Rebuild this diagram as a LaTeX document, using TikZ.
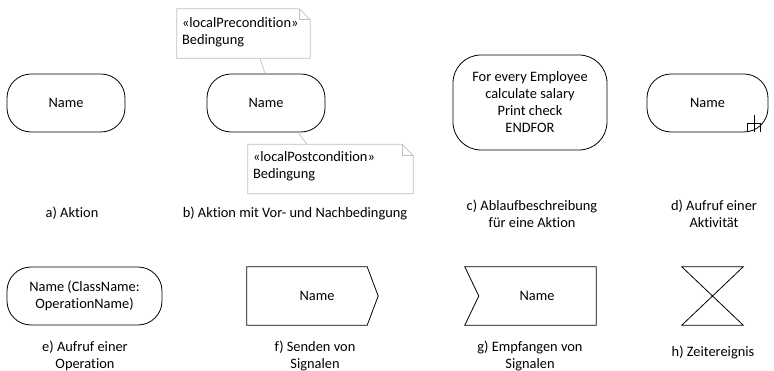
\documentclass[tikz,border=0pt]{standalone}
\usepackage{fontspec}
\setmainfont{Carlito}[Ligatures=NoCommon]
\begin{document}
\begin{tikzpicture}[x=1pt,y=-1pt,
  every node/.style={font=\fontsize{14.4}{17}\selectfont, inner sep=0pt, align=center},
  act/.style={draw, line width=0.8pt, rectangle, rounded corners=24pt},
  notebox/.style={minimum width=#1, minimum height=49, draw=none},
  noteline/.style={draw=gray!50, line width=0.7pt},
  shapeline/.style={line width=0.8pt},
  caption/.style={}
]
\useasboundingbox (0,0) rectangle (774,371);

% a) action
\node[act, minimum width=118, minimum height=58] (a) at (66,103) {Name};
\node[caption] (la) at (72,213) {a) Aktion};

% b) action with local pre- and postcondition
\node[act, minimum width=118, minimum height=58] (b) at (266,103) {Name};
\node[notebox=133] (n1) at (243.5,33.5) {};
\node[anchor=north west, align=left] (n1t) at ([shift={(5,9)}]n1.north west) {«localPrecondition»\\Bedingung};
\draw[noteline] (n1.south west) -- (n1.south east) -- ([yshift=-11pt]n1.north east)
  -- ([xshift=-11pt]n1.north east) -- (n1.north west) -- cycle;
\draw[noteline] ([xshift=-11pt]n1.north east) -- ([shift={(-11,11)}]n1.north east) -- ([yshift=-11pt]n1.north east);
\node[notebox=165] (n2) at (330.5,169) {};
\node[anchor=north west, align=left] (n2t) at ([shift={(5,7)}]n2.north west) {«localPostcondition»\\Bedingung};
\draw[noteline] (n2.south west) -- (n2.south east) -- ([yshift=-11pt]n2.north east)
  -- ([xshift=-11pt]n2.north east) -- (n2.north west) -- cycle;
\draw[noteline] ([xshift=-11pt]n2.north east) -- ([shift={(-11,11)}]n2.north east) -- ([yshift=-11pt]n2.north east);
\coordinate (n1c) at (n1.south -| 260,0);
\coordinate (b1c) at (b.north -| 265,0);
\draw[noteline] (n1c) -- (b1c);
\coordinate (b2c) at (b.south -| 298,0);
\coordinate (n2c) at (n2.north -| 307,0);
\draw[noteline] (b2c) -- (n2c);
\node[caption] (lb) at (295,213) {b) Aktion mit Vor- und Nachbedingung};

% c) action with a textual description
\node[act, rounded corners=28pt, minimum width=154, minimum height=95] (c) at (530,102.5)
  {For every Employee\\calculate salary\\Print check\\ENDFOR};
\node[caption] (lc) at (532,214) {c) Ablaufbeschreibung\\für eine Aktion};

% d) call of an activity, with the rake symbol
\node[act, minimum width=121, minimum height=58] (d) at (707.5,103) {Name};
\draw[shapeline] ([shift={(-8,0)}]d.south east) -- ([shift={(-8,-9)}]d.south east)
  -- ([shift={(-21,-9)}]d.south east) -- ([shift={(-21,0)}]d.south east);
\draw[shapeline] ([shift={(-14.5,0)}]d.south east) -- ([shift={(-14.5,-17)}]d.south east);
\node[caption] (ld) at (714,214) {d) Aufruf einer\\Aktivität};

% e) call of an operation
\node[act, minimum width=155, minimum height=58] (e) at (84.5,296) {Name (ClassName:\\OperationName)};
\node[caption] (le) at (85,356) {e) Aufruf einer\\Operation};

% f) send signal
\node[minimum width=120, minimum height=58] (f) at (307,296) {};
\node (ft) at (317,296) {Name};
\draw[shapeline] (f.north west) -- (f.north east) -- ([xshift=11pt]f.east) -- (f.south east)
  -- (f.south west) -- cycle;
\node[caption] (lf) at (315,356) {f) Senden von\\Signalen};

% g) accept signal
\node[minimum width=131, minimum height=58] (g) at (530.5,296) {};
\node (gt) at (537,296) {Name};
\draw[shapeline] (g.north west) -- (g.north east) -- (g.south east) -- (g.south west)
  -- ([xshift=14pt]g.west) -- cycle;
\node[caption] (lg) at (530,356) {g) Empfangen von\\Signalen};

% h) time event
\node[minimum width=61, minimum height=58] (h) at (712.5,296) {};
\draw[shapeline] (h.north west) -- (h.north east) -- (h.south west) -- (h.south east) -- cycle;
\node[caption] (lh) at (713,352) {h) Zeitereignis};
\end{tikzpicture}
\end{document}
